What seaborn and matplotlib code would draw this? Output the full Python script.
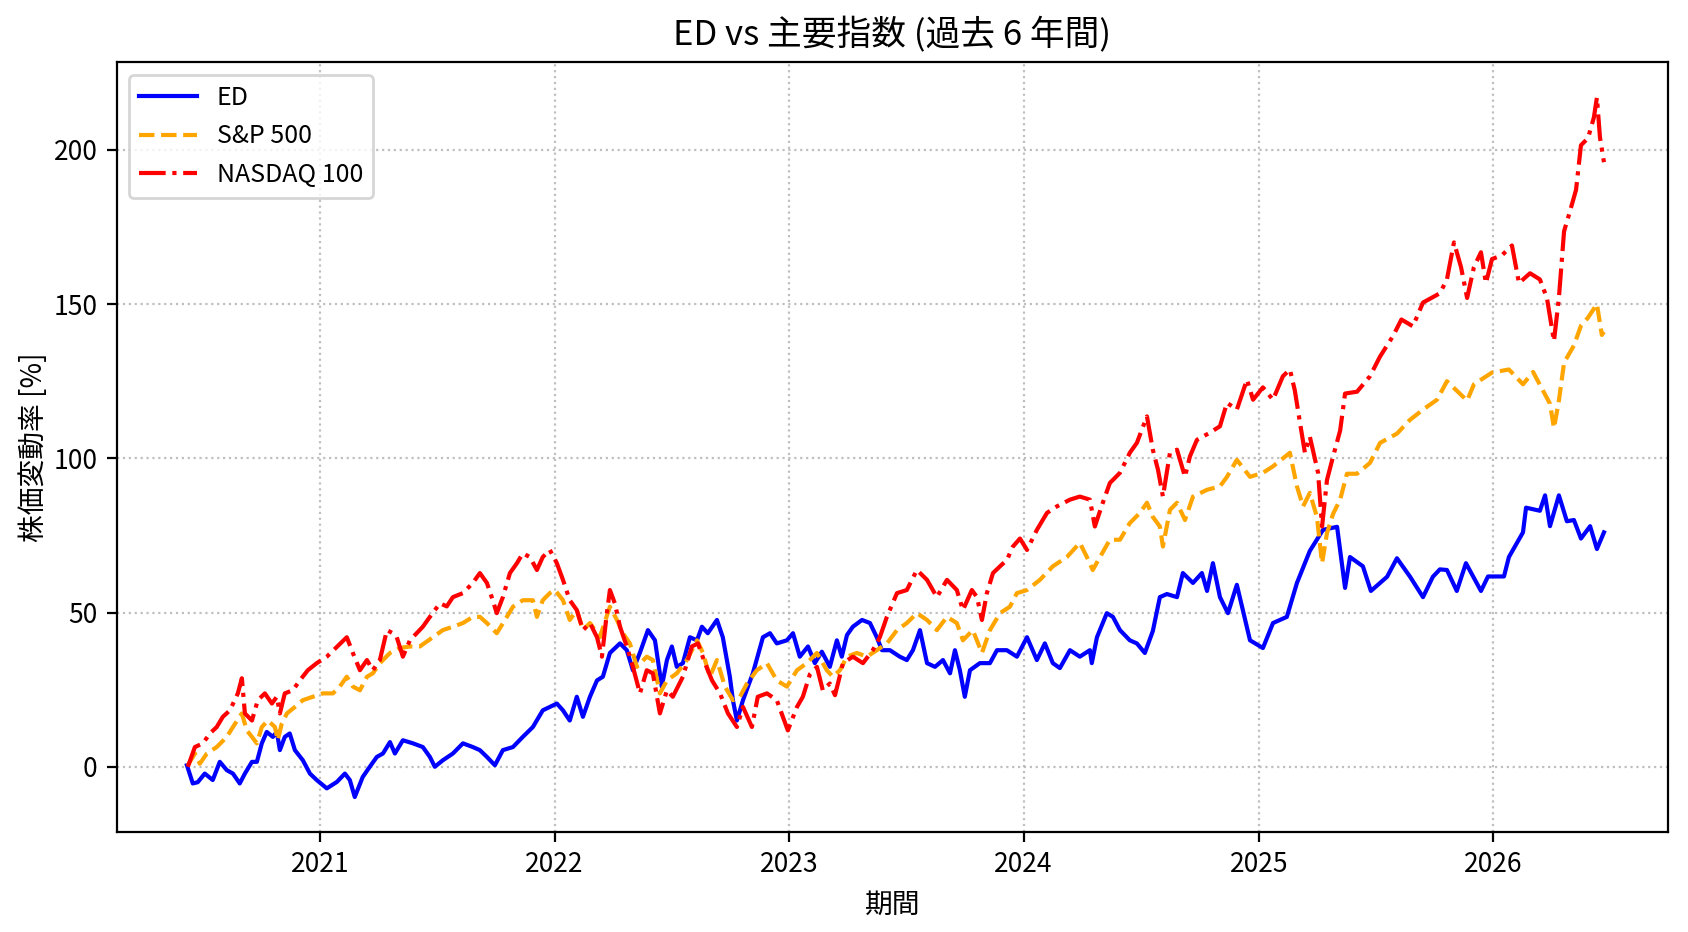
import numpy as np
import pandas as pd
import matplotlib
matplotlib.use("Agg")
import matplotlib.pyplot as plt
import matplotlib.dates as mdates
import seaborn as sns

# ---- data (decimal years, % change) ----
ed_t = [2020.435, 2020.460, 2020.481, 2020.511, 2020.545, 2020.575, 2020.605, 2020.631, 2020.660, 2020.682,
        2020.712, 2020.733, 2020.754, 2020.775, 2020.801, 2020.818, 2020.831, 2020.852, 2020.873, 2020.895,
        2020.929, 2020.959, 2020.988, 2021.031, 2021.074, 2021.108, 2021.129, 2021.150, 2021.184, 2021.214,
        2021.244, 2021.270, 2021.300, 2021.321, 2021.355, 2021.398, 2021.440, 2021.470, 2021.491, 2021.525,
        2021.568, 2021.611, 2021.653, 2021.683, 2021.713, 2021.747, 2021.781, 2021.824, 2021.866, 2021.909,
        2021.951, 2022.011, 2022.037, 2022.066, 2022.096, 2022.122, 2022.152, 2022.182, 2022.207, 2022.237,
        2022.280, 2022.309, 2022.335, 2022.365, 2022.399, 2022.429, 2022.458, 2022.480, 2022.501, 2022.522,
        2022.548, 2022.578, 2022.608, 2022.629, 2022.654, 2022.693, 2022.718, 2022.748, 2022.761, 2022.778,
        2022.804, 2022.846, 2022.889, 2022.919, 2022.948, 2022.991, 2023.017, 2023.046, 2023.081, 2023.110,
        2023.140, 2023.174, 2023.204, 2023.225, 2023.247, 2023.272, 2023.311, 2023.345, 2023.374, 2023.396,
        2023.430, 2023.472, 2023.502, 2023.528, 2023.558, 2023.588, 2023.622, 2023.656, 2023.686, 2023.707,
        2023.728, 2023.749, 2023.771, 2023.813, 2023.856, 2023.886, 2023.928, 2023.971, 2024.014, 2024.056,
        2024.090, 2024.124, 2024.154, 2024.197, 2024.239, 2024.282, 2024.290, 2024.312, 2024.354, 2024.380,
        2024.410, 2024.452, 2024.482, 2024.516, 2024.550, 2024.580, 2024.610, 2024.653, 2024.678, 2024.721,
        2024.759, 2024.781, 2024.806, 2024.836, 2024.870, 2024.908, 2024.964, 2025.019, 2025.062, 2025.121,
        2025.164, 2025.219, 2025.275, 2025.335, 2025.369, 2025.390, 2025.445, 2025.479, 2025.548, 2025.590,
        2025.646, 2025.701, 2025.743, 2025.773, 2025.803, 2025.845, 2025.884, 2025.948, 2025.978, 2026.046,
        2026.067, 2026.127, 2026.140, 2026.199, 2026.221, 2026.242, 2026.280, 2026.314, 2026.344, 2026.374,
        2026.413, 2026.442, 2026.472]
ed_v = [0.5, -5.4, -5.0, -2.2, -4.3, 1.6, -1.1, -2.2, -5.4, -2.2,
        1.6, 1.6, 7.6, 11.3, 9.7, 11.3, 5.4, 9.7, 10.8, 5.4,
        2.1, -2.2, -4.3, -7.0, -4.9, -2.2, -4.3, -9.8, -3.3, 0.0,
        3.2, 4.3, 8.0, 4.3, 8.6, 7.6, 6.4, 3.2, 0.0, 2.1,
        4.3, 7.6, 6.4, 5.4, 3.2, 0.5, 5.4, 6.4, 9.7, 12.9,
        18.3, 20.5, 18.3, 15.0, 22.7, 16.2, 22.7, 28.0, 29.2, 36.9,
        40.0, 37.8, 31.3, 37.0, 44.3, 41.0, 26.0, 34.6, 39.0, 32.4,
        33.6, 42.0, 41.0, 45.4, 43.3, 47.6, 42.0, 29.2, 21.6, 15.0,
        21.6, 30.3, 42.0, 43.3, 40.0, 41.0, 43.3, 35.7, 39.0, 33.6,
        37.3, 32.4, 41.0, 35.7, 42.7, 45.4, 47.6, 46.6, 42.0, 37.8,
        37.8, 35.7, 34.6, 37.8, 44.3, 33.6, 32.4, 34.6, 30.3, 37.8,
        31.3, 22.7, 31.3, 33.6, 33.6, 37.8, 37.8, 35.7, 42.0, 34.6,
        40.0, 33.6, 32.0, 37.8, 35.7, 37.8, 33.6, 42.0, 49.8, 48.6,
        44.3, 41.0, 40.0, 36.9, 44.0, 55.0, 56.0, 55.0, 62.8, 59.6,
        62.8, 57.0, 66.0, 55.0, 49.8, 59.0, 41.0, 38.5, 46.6, 48.6,
        59.6, 70.0, 76.8, 77.8, 58.0, 68.0, 65.0, 57.0, 61.6, 67.6,
        61.6, 55.0, 61.6, 64.0, 63.8, 57.0, 66.0, 57.0, 61.7, 61.7,
        68.0, 76.0, 84.0, 83.0, 88.0, 78.0, 88.0, 79.6, 80.0, 74.0,
        78.0, 70.6, 76.0]

sp_t = [2020.439, 2020.469, 2020.490, 2020.520, 2020.562, 2020.605, 2020.631, 2020.669, 2020.690, 2020.712,
        2020.733, 2020.754, 2020.780, 2020.810, 2020.822, 2020.839, 2020.861, 2020.895, 2020.929, 2020.971,
        2021.014, 2021.057, 2021.086, 2021.116, 2021.142, 2021.172, 2021.202, 2021.227, 2021.257, 2021.300,
        2021.342, 2021.385, 2021.427, 2021.483, 2021.525, 2021.568, 2021.611, 2021.653, 2021.683, 2021.713,
        2021.755, 2021.790, 2021.824, 2021.866, 2021.909, 2021.926, 2021.951, 2021.981, 2022.003, 2022.037,
        2022.066, 2022.096, 2022.122, 2022.152, 2022.194, 2022.237, 2022.267, 2022.292, 2022.322, 2022.352,
        2022.394, 2022.420, 2022.450, 2022.480, 2022.522, 2022.565, 2022.608, 2022.633, 2022.663, 2022.693,
        2022.727, 2022.761, 2022.791, 2022.821, 2022.863, 2022.906, 2022.948, 2022.991, 2023.034, 2023.076,
        2023.119, 2023.161, 2023.187, 2023.217, 2023.247, 2023.289, 2023.332, 2023.374, 2023.417, 2023.460,
        2023.502, 2023.545, 2023.588, 2023.630, 2023.673, 2023.715, 2023.741, 2023.783, 2023.822, 2023.856,
        2023.899, 2023.941, 2023.971, 2024.014, 2024.069, 2024.124, 2024.184, 2024.239, 2024.269, 2024.294,
        2024.325, 2024.367, 2024.410, 2024.452, 2024.495, 2024.525, 2024.550, 2024.580, 2024.593, 2024.623,
        2024.653, 2024.687, 2024.721, 2024.781, 2024.836, 2024.866, 2024.908, 2024.964, 2025.019, 2025.062,
        2025.134, 2025.164, 2025.190, 2025.219, 2025.249, 2025.271, 2025.292, 2025.318, 2025.348, 2025.377,
        2025.420, 2025.475, 2025.518, 2025.590, 2025.646, 2025.701, 2025.761, 2025.803, 2025.889, 2025.918,
        2025.995, 2026.067, 2026.127, 2026.170, 2026.212, 2026.242, 2026.259, 2026.280, 2026.302, 2026.344,
        2026.374, 2026.404, 2026.442, 2026.463, 2026.472]
sp_v = [0.5, 4.3, 1.0, 4.3, 6.4, 9.7, 12.9, 17.3, 11.8, 9.7,
        7.6, 12.9, 15.0, 12.9, 8.6, 14.0, 17.3, 19.4, 21.6, 22.7,
        23.8, 23.8, 26.0, 29.2, 26.0, 24.8, 29.2, 30.3, 33.6, 36.9,
        38.5, 39.0, 39.0, 42.0, 44.3, 45.4, 46.6, 48.6, 48.6, 46.6,
        43.3, 47.6, 51.9, 54.0, 54.0, 48.6, 54.0, 56.3, 57.3, 54.0,
        47.6, 50.8, 44.3, 46.6, 42.0, 51.9, 47.6, 43.3, 40.0, 32.4,
        35.7, 34.6, 23.8, 28.0, 30.3, 34.6, 41.0, 37.0, 29.2, 34.6,
        26.0, 21.6, 22.7, 27.0, 31.3, 33.6, 28.0, 26.0, 31.3, 33.6,
        36.9, 31.3, 29.2, 31.3, 35.7, 36.9, 35.7, 37.8, 40.0, 44.3,
        46.6, 49.8, 47.6, 44.3, 48.6, 46.6, 41.0, 44.3, 36.9, 44.3,
        49.8, 51.9, 56.3, 57.3, 60.6, 65.0, 68.0, 72.6, 68.0, 63.8,
        68.0, 73.6, 73.6, 79.0, 82.3, 85.6, 81.0, 77.9, 71.4, 83.3,
        85.6, 80.0, 87.6, 89.8, 90.9, 94.0, 99.5, 94.0, 95.3, 97.4,
        101.8, 90.9, 84.4, 88.8, 81.0, 66.0, 75.8, 82.0, 86.6, 95.0,
        95.0, 98.5, 105.0, 108.0, 112.5, 115.8, 119.0, 125.0, 118.7, 124.0,
        127.8, 128.8, 124.0, 128.0, 122.0, 117.7, 109.8, 118.7, 131.0, 136.6,
        143.0, 145.6, 150.0, 140.0, 141.0]

nq_t = [2020.439, 2020.469, 2020.503, 2020.533, 2020.562, 2020.588, 2020.618, 2020.652, 2020.669, 2020.682,
        2020.712, 2020.737, 2020.767, 2020.797, 2020.818, 2020.831, 2020.852, 2020.886, 2020.916, 2020.950,
        2020.988, 2021.031, 2021.074, 2021.116, 2021.142, 2021.172, 2021.202, 2021.227, 2021.257, 2021.287,
        2021.312, 2021.329, 2021.355, 2021.385, 2021.440, 2021.470, 2021.513, 2021.542, 2021.568, 2021.611,
        2021.653, 2021.683, 2021.713, 2021.738, 2021.755, 2021.781, 2021.811, 2021.841, 2021.866, 2021.896,
        2021.926, 2021.951, 2021.981, 2022.011, 2022.037, 2022.066, 2022.096, 2022.122, 2022.152, 2022.182,
        2022.203, 2022.224, 2022.237, 2022.258, 2022.280, 2022.309, 2022.335, 2022.365, 2022.394, 2022.420,
        2022.450, 2022.480, 2022.505, 2022.548, 2022.586, 2022.612, 2022.642, 2022.672, 2022.706, 2022.740,
        2022.778, 2022.804, 2022.842, 2022.867, 2022.906, 2022.948, 2022.974, 2022.995, 2023.034, 2023.059,
        2023.089, 2023.119, 2023.144, 2023.174, 2023.196, 2023.230, 2023.272, 2023.315, 2023.357, 2023.387,
        2023.417, 2023.460, 2023.502, 2023.545, 2023.588, 2023.630, 2023.673, 2023.715, 2023.741, 2023.779,
        2023.801, 2023.822, 2023.843, 2023.869, 2023.899, 2023.928, 2023.954, 2023.984, 2024.014, 2024.056,
        2024.099, 2024.141, 2024.197, 2024.239, 2024.282, 2024.303, 2024.337, 2024.367, 2024.410, 2024.452,
        2024.482, 2024.525, 2024.550, 2024.572, 2024.593, 2024.623, 2024.653, 2024.687, 2024.708, 2024.738,
        2024.793, 2024.836, 2024.866, 2024.908, 2024.951, 2024.977, 2025.019, 2025.062, 2025.104, 2025.134,
        2025.155, 2025.177, 2025.198, 2025.219, 2025.254, 2025.271, 2025.292, 2025.318, 2025.348, 2025.369,
        2025.420, 2025.475, 2025.518, 2025.573, 2025.609, 2025.658, 2025.701, 2025.773, 2025.803, 2025.833,
        2025.863, 2025.889, 2025.918, 2025.948, 2025.969, 2025.995, 2026.037, 2026.080, 2026.110, 2026.157,
        2026.199, 2026.229, 2026.259, 2026.280, 2026.302, 2026.323, 2026.353, 2026.374, 2026.404, 2026.429,
        2026.442, 2026.455, 2026.472]
nq_v = [0.0, 6.4, 7.6, 10.8, 12.9, 16.2, 18.3, 23.8, 28.7, 17.3,
        15.0, 21.6, 23.8, 20.5, 22.7, 17.3, 23.8, 24.8, 28.0, 31.3,
        33.6, 35.7, 38.9, 42.0, 36.9, 31.3, 34.6, 31.3, 34.6, 44.3,
        43.3, 42.0, 35.7, 41.0, 45.4, 48.6, 53.0, 52.0, 55.0, 56.3,
        59.6, 62.8, 59.6, 54.0, 49.8, 55.0, 62.8, 66.0, 69.2, 68.0,
        63.8, 68.0, 70.3, 66.0, 60.6, 54.0, 50.8, 44.3, 46.6, 42.0,
        35.7, 49.8, 57.3, 53.0, 45.4, 39.0, 32.4, 23.8, 31.3, 30.3,
        17.3, 24.8, 22.7, 29.2, 39.0, 40.0, 33.6, 28.0, 23.8, 17.3,
        12.9, 19.4, 12.9, 22.7, 23.8, 21.6, 16.2, 11.8, 19.4, 22.7,
        30.0, 32.4, 24.8, 27.0, 23.2, 33.6, 35.7, 33.6, 37.8, 42.0,
        48.6, 56.3, 57.3, 63.8, 60.6, 55.0, 60.6, 57.3, 50.8, 57.3,
        55.0, 47.6, 56.3, 62.8, 65.0, 67.0, 71.4, 74.0, 70.3, 76.8,
        82.3, 84.4, 86.6, 87.6, 86.6, 77.9, 85.6, 92.0, 95.3, 101.8,
        105.0, 113.6, 102.8, 96.3, 87.6, 101.8, 102.8, 94.0, 100.6, 106.0,
        108.3, 110.4, 118.0, 115.8, 125.5, 119.0, 123.0, 119.0, 126.6, 128.8,
        122.0, 111.5, 101.8, 107.0, 95.3, 77.9, 93.0, 100.6, 109.0, 121.0,
        121.6, 126.6, 133.0, 139.6, 145.0, 142.8, 150.5, 153.5, 158.0, 170.0,
        162.0, 152.0, 162.0, 166.8, 156.8, 164.6, 165.8, 169.0, 156.8, 160.0,
        158.0, 152.0, 138.0, 152.0, 173.6, 179.0, 187.0, 201.5, 203.8, 210.5,
        217.0, 204.0, 196.0]

series_names = ["ED", "S&P 500", "NASDAQ 100"]
title_text = "ED vs 主要指数 (過去 6 年間)"
x_label = "期間"
y_label = "株価変動率 [%]"
x_range = [2020.137, 2026.743]


def to_dates(t):
    t = np.asarray(t, dtype=float)
    return pd.Timestamp("2020-01-01") + pd.to_timedelta((t - 2020.0) * 365.25, unit="D")


plt.rcParams["font.family"] = ["Noto Sans CJK JP", "DejaVu Sans"]

fig = plt.figure(figsize=(8.44, 4.66), dpi=200)
ax = fig.add_axes([0.0693, 0.1073, 0.9186, 0.8257])

sns.lineplot(x=to_dates(ed_t), y=ed_v, ax=ax, color="blue", linestyle="-",
             linewidth=1.5, label=series_names[0])
sns.lineplot(x=to_dates(sp_t), y=sp_v, ax=ax, color="orange", linestyle="--",
             linewidth=1.5, label=series_names[1])
sns.lineplot(x=to_dates(nq_t), y=nq_v, ax=ax, color="red", linestyle="-.",
             linewidth=1.5, label=series_names[2])

xr = to_dates(x_range)
ax.set_xlim(xr[0], xr[1])
ax.xaxis.set_major_locator(mdates.YearLocator())
ax.xaxis.set_major_formatter(mdates.DateFormatter("%Y"))
ax.set_yticks([0, 50, 100, 150, 200])
ax.tick_params(labelsize=9.5)
ax.grid(True, linestyle=":", color="#b0b0b0", alpha=0.8)
ax.set_title(title_text, fontsize=12.5)
ax.set_xlabel(x_label, fontsize=10)
ax.set_ylabel(y_label, fontsize=10, labelpad=1.5)
ax.legend(loc="upper left", fontsize=9, handlelength=2.3)

fig.savefig("out.png", dpi=200)
